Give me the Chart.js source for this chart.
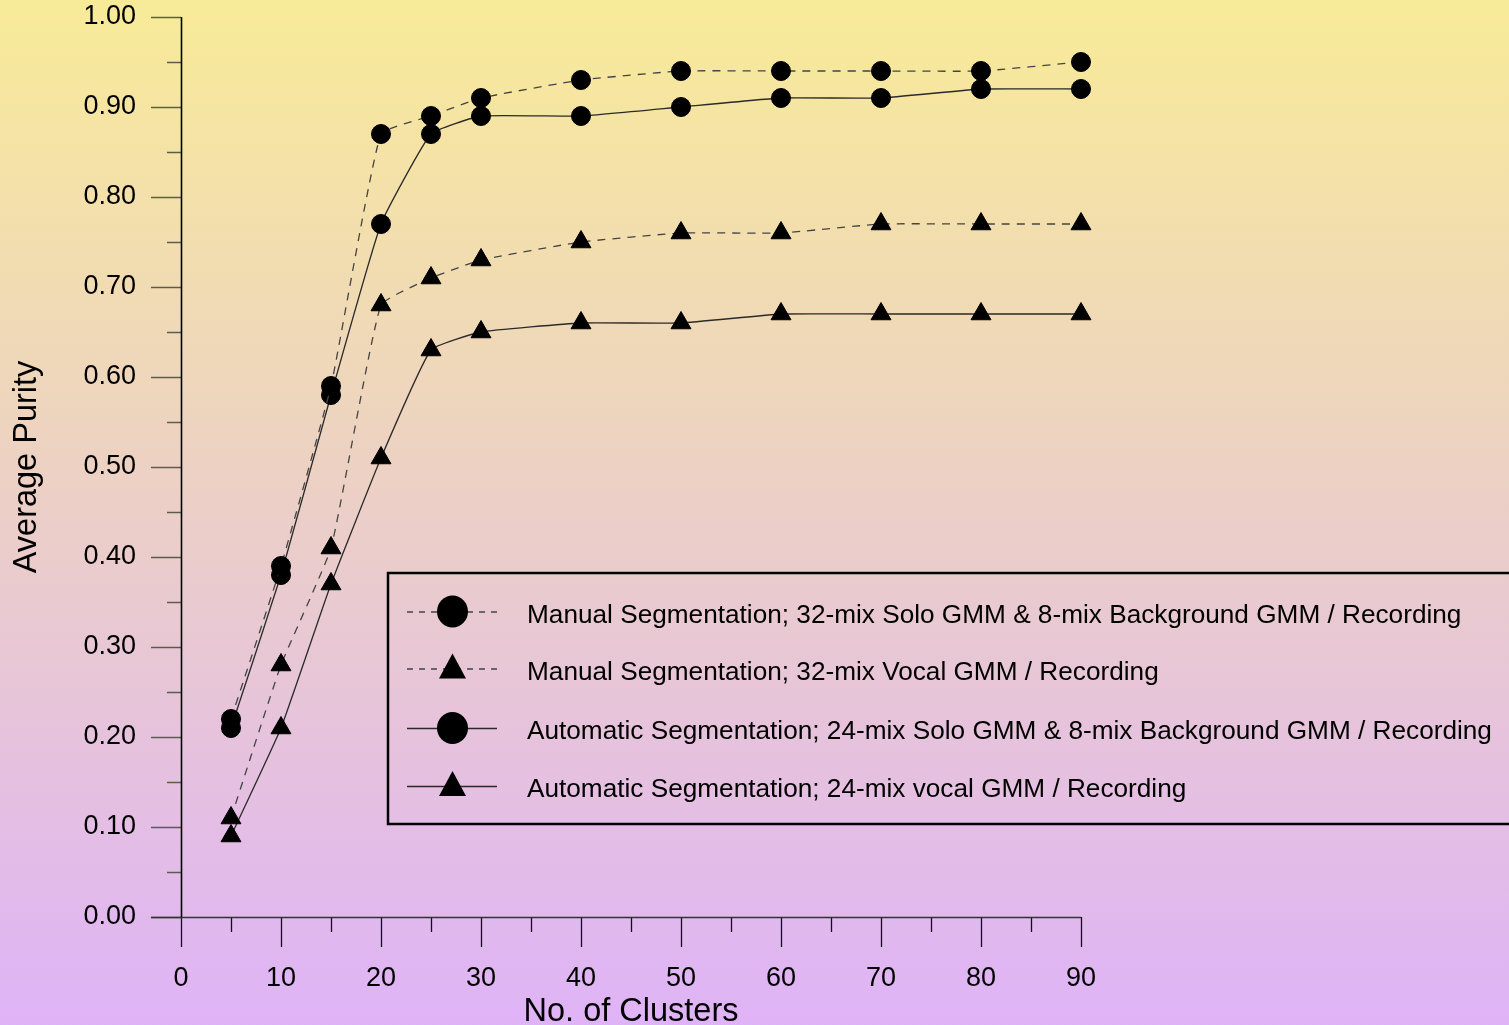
<!DOCTYPE html>
<html>
<head>
<meta charset="utf-8">
<script src="https://cdn.jsdelivr.net/npm/chart.js@4.4.1/dist/chart.umd.min.js"></script>
<style>
html,body{margin:0;padding:0;overflow:hidden;background:#ecd0c8;}
#wrap{width:1509px;height:1025px;position:relative;}
</style>
</head>
<body>
<div id="wrap"><canvas id="c" width="1509" height="1025"></canvas></div>
<script>
// ---- data ----
const clusters = [5, 10, 15, 20, 25, 30, 40, 50, 60, 70, 80, 90];
const manualSolo  = [0.22, 0.39, 0.59, 0.87, 0.89, 0.91, 0.93, 0.94, 0.94, 0.94, 0.94, 0.95];
const manualVocal = [0.11, 0.28, 0.41, 0.68, 0.71, 0.73, 0.75, 0.76, 0.76, 0.77, 0.77, 0.77];
const autoSolo    = [0.21, 0.38, 0.58, 0.77, 0.87, 0.89, 0.89, 0.90, 0.91, 0.91, 0.92, 0.92];
const autoVocal   = [0.09, 0.21, 0.37, 0.51, 0.63, 0.65, 0.66, 0.66, 0.67, 0.67, 0.67, 0.67];
const seriesLabels = [
  'Manual Segmentation; 32-mix Solo GMM & 8-mix Background GMM / Recording',
  'Manual Segmentation; 32-mix Vocal GMM / Recording',
  'Automatic Segmentation; 24-mix Solo GMM & 8-mix Background GMM / Recording',
  'Automatic Segmentation; 24-mix vocal GMM / Recording'
];
const xTitle = 'No. of Clusters';
const yTitle = 'Average Purity';

const FONT = '"Liberation Sans", Arial, Helvetica, sans-serif';
const toPts = arr => arr.map((v, i) => ({x: clusters[i], y: v}));

function ds(label, values, shape, dashed) {
  return {
    label: label,
    data: toPts(values),
    borderColor: dashed ? '#444' : '#2a2a2a',
    borderWidth: 1.3,
    borderDash: dashed ? [8, 7] : [],
    backgroundColor: '#000',
    pointStyle: shape,
    pointRadius: shape === 'circle' ? 9.5 : 11.5,
    pointBorderWidth: 1,
    pointBorderColor: '#000',
    pointBackgroundColor: '#000',
    tension: 0.12,
    fill: false,
    clip: false
  };
}

const bgPlugin = {
  id: 'bg',
  beforeDraw(chart) {
    const ctx = chart.ctx;
    const g = ctx.createLinearGradient(0, 0, 0, chart.height);
    g.addColorStop(0, '#f8eb98');
    g.addColorStop(1, '#dfb3f7');
    ctx.save();
    ctx.fillStyle = g;
    ctx.fillRect(0, 0, chart.width, chart.height);
    ctx.restore();
  }
};

const axesPlugin = {
  id: 'axesTicks',
  beforeDatasetsDraw(chart) {
    const ctx = chart.ctx;
    const xs = chart.scales.x, ys = chart.scales.y;
    const ca = chart.chartArea;
    ctx.save();
    // x ticks
    ctx.strokeStyle = '#111';
    ctx.lineWidth = 1.3;
    for (let v = xs.min; v <= xs.max + 1e-9; v += 5) {
      const px = Math.round(xs.getPixelForValue(v)) + 0.5;
      const len = (Math.round(v) % 10 === 0) ? 30 : 15;
      ctx.beginPath();
      ctx.moveTo(px, ca.bottom);
      ctx.lineTo(px, ca.bottom + len);
      ctx.stroke();
    }
    // y ticks
    ctx.strokeStyle = '#5c5c4c';
    ctx.lineWidth = 1.5;
    for (let i = 0; i <= 20; i++) {
      const py = Math.round(ys.getPixelForValue(i * 0.05)) + 0.5;
      const len = (i % 2 === 0) ? 30 : 14;
      ctx.beginPath();
      ctx.moveTo(ca.left - len, py);
      ctx.lineTo(ca.left, py);
      ctx.stroke();
    }
    // x axis line
    ctx.strokeStyle = '#333';
    ctx.lineWidth = 1.5;
    ctx.beginPath();
    ctx.moveTo(ca.left - 30, Math.round(ca.bottom) + 0.5);
    ctx.lineTo(ca.right, Math.round(ca.bottom) + 0.5);
    ctx.stroke();
    // y axis line
    ctx.strokeStyle = '#000';
    ctx.lineWidth = 1.6;
    ctx.beginPath();
    ctx.moveTo(Math.round(ca.left) + 0.5, ca.top);
    ctx.lineTo(Math.round(ca.left) + 0.5, ca.bottom);
    ctx.stroke();
    ctx.restore();
  }
};

const legendPlugin = {
  id: 'boxLegend',
  afterDraw(chart) {
    const ctx = chart.ctx;
    ctx.save();
    ctx.strokeStyle = '#000';
    ctx.lineWidth = 2.5;
    ctx.strokeRect(388, 573, 1140, 251);
    const rows = [611.5, 668.5, 728, 786];
    chart.data.datasets.forEach((d, i) => {
      const y = rows[i];
      ctx.strokeStyle = d.borderColor;
      ctx.lineWidth = 1.3;
      ctx.setLineDash(d.borderDash.length ? [6, 6] : []);
      ctx.beginPath();
      ctx.moveTo(407, y + 0.5);
      ctx.lineTo(497, y + 0.5);
      ctx.stroke();
      ctx.setLineDash([]);
      ctx.fillStyle = '#000';
      ctx.beginPath();
      if (d.pointStyle === 'circle') {
        ctx.ellipse(452.5, y, 15.5, 16, 0, 0, Math.PI * 2);
      } else {
        ctx.moveTo(452.5, y - 15);
        ctx.lineTo(466, y + 10);
        ctx.lineTo(439, y + 10);
        ctx.closePath();
      }
      ctx.fill();
      ctx.font = '26.2px ' + FONT;
      ctx.textBaseline = 'alphabetic';
      ctx.textAlign = 'left';
      ctx.fillStyle = '#000';
      ctx.fillText(d.label, 527, y + 11);
    });
    ctx.restore();
  }
};

new Chart(document.getElementById('c'), {
  type: 'line',
  data: {
    datasets: [
      ds(seriesLabels[0], manualSolo, 'circle', true),
      ds(seriesLabels[1], manualVocal, 'triangle', true),
      ds(seriesLabels[2], autoSolo, 'circle', false),
      ds(seriesLabels[3], autoVocal, 'triangle', false)
    ]
  },
  options: {
    responsive: false,
    animation: false,
    devicePixelRatio: 1,
    layout: {padding: {top: 17, right: 428, bottom: 0, left: 0}},
    plugins: {legend: {display: false}, tooltip: {enabled: false}},
    scales: {
      x: {
        type: 'linear',
        min: 0, max: 90,
        grid: {display: false, drawTicks: true, tickLength: 45},
        border: {display: false},
        ticks: {
          stepSize: 10, autoSkip: false, maxRotation: 0,
          padding: 0, color: '#000',
          font: {family: FONT, size: 27}
        },
        title: {
          display: true, text: xTitle, color: '#000',
          font: {family: FONT, size: 32.5}, padding: {top: 0, bottom: -7}
        },
        afterFit(s) { s.height = 108; }
      },
      y: {
        type: 'linear',
        min: 0, max: 1,
        grid: {display: false, drawTicks: true, tickLength: 45},
        border: {display: false},
        ticks: {
          stepSize: 0.1, autoSkip: false, padding: 0, color: '#000',
          font: {family: FONT, size: 27},
          callback: v => Number(v).toFixed(2)
        },
        title: {
          display: true, text: yTitle, color: '#000',
          font: {family: FONT, size: 32.5}, padding: {top: 8, bottom: 0}
        },
        afterFit(s) { s.width = 181; }
      }
    }
  },
  plugins: [bgPlugin, axesPlugin, legendPlugin]
});
</script>
</body>
</html>
